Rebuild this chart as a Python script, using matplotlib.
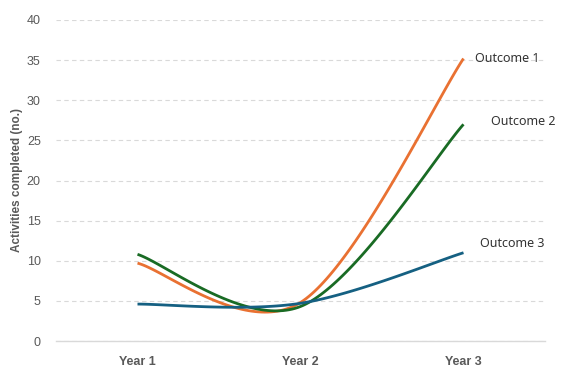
import numpy as np
import matplotlib.pyplot as plt

# Activities completed per year
years = ["Year 1", "Year 2", "Year 3"]
outcome1 = [9.7, 4.8, 35.2]
outcome2 = [10.8, 4.3, 27.0]
outcome3 = [4.6, 4.7, 11.0]

series_names = ["Outcome 1", "Outcome 2", "Outcome 3"]
colors = ["#E97132", "#196B24", "#156082"]
label_offsets = [(8, 0), (20, 2), (12, 7)]  # points from last marker


def smooth(xs, ys, n=60):
    # Excel-like smoothing: cubic Bezier between points, Catmull-Rom controls
    xs = np.asarray(xs, float)
    ys = np.asarray(ys, float)
    pts = np.column_stack([xs, ys])
    out = []
    for i in range(len(pts) - 1):
        p0 = pts[max(i - 1, 0)]
        p1 = pts[i]
        p2 = pts[i + 1]
        p3 = pts[min(i + 2, len(pts) - 1)]
        c1 = p1 + (p2 - p0) / 6
        c2 = p2 - (p3 - p1) / 6
        t = np.linspace(0, 1, n)[:, None]
        seg = ((1 - t) ** 3) * p1 + 3 * ((1 - t) ** 2) * t * c1 + 3 * (1 - t) * t ** 2 * c2 + t ** 3 * p2
        out.append(seg if i == 0 else seg[1:])
    out = np.vstack(out)
    return out[:, 0], out[:, 1]


fig = plt.figure(figsize=(5.62, 3.83), dpi=100)
ax = fig.add_axes([56 / 562, 42 / 383, 489 / 562, 321 / 383])

x = np.arange(len(years))
for vals, name, col, off in zip([outcome1, outcome2, outcome3], series_names, colors, label_offsets):
    sx, sy = smooth(x, vals)
    ax.plot(sx, sy, color=col, lw=2.0, solid_capstyle="butt")
    ax.annotate(name, (x[-1], vals[-1]), xytext=off, textcoords="offset points",
                ha="left", va="center", fontsize=9, color="#333333", family="Noto Sans")

ax.set_xlim(-0.5, 2.5)
ax.set_ylim(0, 40)
ax.set_yticks(range(0, 41, 5))
ax.set_xticks(x)
ax.set_xticklabels(years, fontsize=9, fontweight="bold", color="#595959",
                   family=["Liberation Sans", "DejaVu Sans"])
ax.tick_params(axis="y", labelsize=9, labelcolor="#595959", length=0, pad=11)
ax.tick_params(axis="x", length=0, pad=11)
for lab in ax.get_yticklabels():
    lab.set_family(["Liberation Sans", "DejaVu Sans"])

ax.grid(axis="y", color="#D9D9D9", linestyle=(0, (4, 3)), lw=0.8)
ax.set_axisbelow(True)
for s in ["top", "right", "left"]:
    ax.spines[s].set_visible(False)
ax.spines["bottom"].set_color("#D9D9D9")
ax.spines["bottom"].set_linewidth(1.0)

ax.set_ylabel("Activities completed (no.)", fontsize=8.5, fontweight="bold", color="#595959",
              family=["Liberation Sans", "DejaVu Sans"], labelpad=3)

fig.savefig("out.png", dpi=100)
